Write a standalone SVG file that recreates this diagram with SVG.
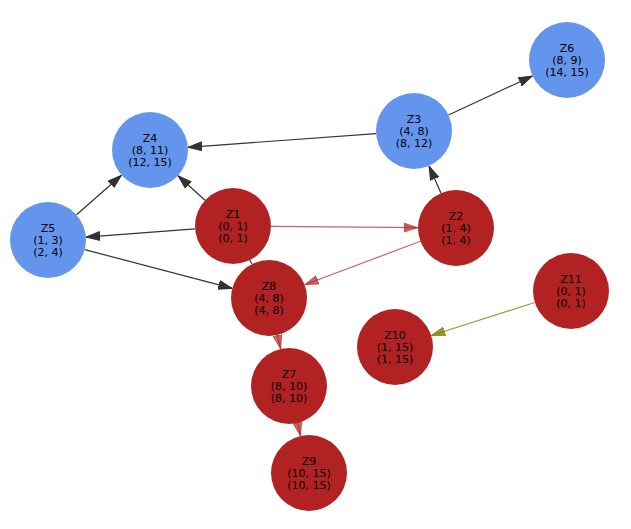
<svg xmlns="http://www.w3.org/2000/svg" width="631" height="529" viewBox="0 0 631 529">
<style>
.red{fill:#b22222}
.blue{fill:#6495ed}
text{font-family:"DejaVu Sans",sans-serif;font-size:11px;text-anchor:middle;fill:#000}
.e{fill:none;stroke-width:1.2}
.dk{stroke:#333333}
.rd{stroke:#b22222;stroke-opacity:0.7}
.ol{stroke:#808000;stroke-opacity:0.8}
</style>
<defs>
<marker id="ad" viewBox="0 0 14 10" refX="14" refY="5" markerWidth="14" markerHeight="10" markerUnits="userSpaceOnUse" orient="auto"><path d="M0,0.5 L14,5 L0,9.5 z" fill="#333333" stroke="#222" stroke-width="0.8"/></marker>
<marker id="ar" viewBox="0 0 14 10" refX="14" refY="5" markerWidth="14" markerHeight="10" markerUnits="userSpaceOnUse" orient="auto"><path d="M0,0.5 L14,5 L0,9.5 z" fill="#b22222" fill-opacity="0.7" stroke="#b22222" stroke-opacity="0.7" stroke-width="0.8"/></marker>
<marker id="ao" viewBox="0 0 14 10" refX="14" refY="5" markerWidth="14" markerHeight="10" markerUnits="userSpaceOnUse" orient="auto"><path d="M0,0.5 L14,5 L0,9.5 z" fill="#808000" fill-opacity="0.8" stroke="#808000" stroke-opacity="0.8" stroke-width="0.8"/></marker>
</defs>
<g id="edges">
<line class="e dk" x1="376.1" y1="133.7" x2="187.9" y2="147.3" marker-end="url(#ad)"/>
<line class="e dk" x1="448.5" y1="115" x2="532.5" y2="76" marker-end="url(#ad)"/>
<line class="e dk" x1="440.9" y1="193.1" x2="429.1" y2="165.9" marker-end="url(#ad)"/>
<line class="e dk" x1="205" y1="200.3" x2="178" y2="175.7" marker-end="url(#ad)"/>
<line class="e dk" x1="195.1" y1="228.9" x2="85.9" y2="237.1" marker-end="url(#ad)"/>
<line class="e dk" x1="248" y1="257" x2="252" y2="264" stroke-width="2"/>
<line class="e dk" x1="76.5" y1="214.8" x2="121.5" y2="175.2" marker-end="url(#ad)"/>
<line class="e dk" x1="84.7" y1="249.6" x2="232.3" y2="288.4" marker-end="url(#ad)"/>
<line class="e rd" x1="271" y1="226.3" x2="418" y2="227.7" marker-end="url(#ar)"/>
<line class="e rd" x1="420.4" y1="241.3" x2="304.6" y2="284.7" marker-end="url(#ar)"/>
<line class="e rd" x1="277.4" y1="335.1" x2="280.6" y2="348.9" marker-end="url(#ar)"/>
<line class="e rd" x1="297.5" y1="423" x2="300.5" y2="436" marker-end="url(#ar)"/>
<line class="e ol" x1="534.8" y1="302.5" x2="431.2" y2="335.5" marker-end="url(#ao)"/>
</g>
<g id="Z1"><circle class="red" cx="233" cy="226" r="38"/><text x="233" y="218">Z1</text><text x="233" y="230">(0, 1)</text><text x="233" y="242">(0, 1)</text></g>
<g id="Z2"><circle class="red" cx="456" cy="228" r="38"/><text x="456" y="220">Z2</text><text x="456" y="232">(1, 4)</text><text x="456" y="244">(1, 4)</text></g>
<g id="Z3"><circle class="blue" cx="414" cy="131" r="38"/><text x="414" y="123">Z3</text><text x="414" y="135">(4, 8)</text><text x="414" y="147">(8, 12)</text></g>
<g id="Z4"><circle class="blue" cx="150" cy="150" r="38"/><text x="150" y="142">Z4</text><text x="150" y="154">(8, 11)</text><text x="150" y="166">(12, 15)</text></g>
<g id="Z5"><circle class="blue" cx="48" cy="240" r="38"/><text x="48" y="232">Z5</text><text x="48" y="244">(1, 3)</text><text x="48" y="256">(2, 4)</text></g>
<g id="Z6"><circle class="blue" cx="567" cy="60" r="38"/><text x="567" y="52">Z6</text><text x="567" y="64">(8, 9)</text><text x="567" y="76">(14, 15)</text></g>
<g id="Z7"><circle class="red" cx="289" cy="386" r="38"/><text x="289" y="378">Z7</text><text x="289" y="390">(8, 10)</text><text x="289" y="402">(8, 10)</text></g>
<g id="Z8"><circle class="red" cx="269" cy="298" r="38"/><text x="269" y="290">Z8</text><text x="269" y="302">(4, 8)</text><text x="269" y="314">(4, 8)</text></g>
<g id="Z9"><circle class="red" cx="309" cy="473" r="38"/><text x="309" y="465">Z9</text><text x="309" y="477">(10, 15)</text><text x="309" y="489">(10, 15)</text></g>
<g id="Z10"><circle class="red" cx="395" cy="347" r="38"/><text x="395" y="339">Z10</text><text x="395" y="351">(1, 15)</text><text x="395" y="363">(1, 15)</text></g>
<g id="Z11"><circle class="red" cx="571" cy="291" r="38"/><text x="571" y="283">Z11</text><text x="571" y="295">(0, 1)</text><text x="571" y="307">(0, 1)</text></g>
</svg>
